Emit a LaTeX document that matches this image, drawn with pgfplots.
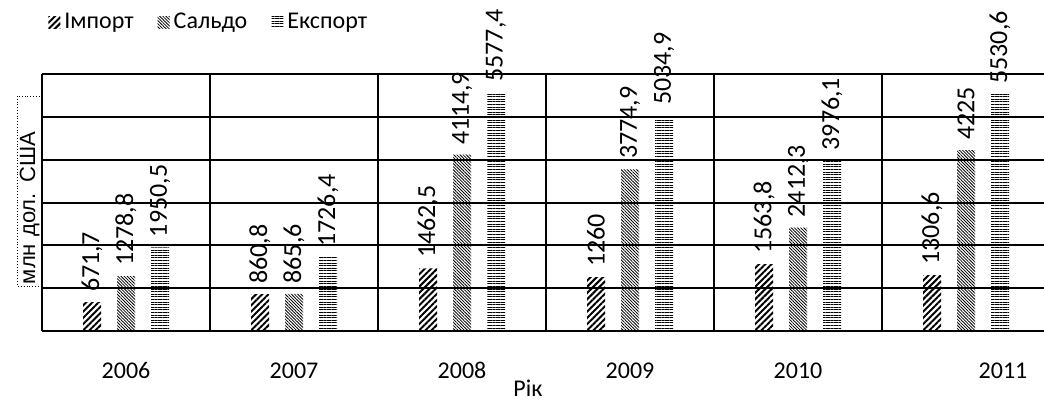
\documentclass[border=0pt]{standalone}
\usepackage{fontspec}
\setmainfont{Carlito}
\newfontfamily\arialfont{Liberation Sans}
\usepackage{pgfplots}
\pgfplotsset{compat=1.18}
\usetikzlibrary{patterns.meta}

\pgfplotstableread{
x imp sal exp
0 671.7  1278.8 1950.5
1 860.8  865.6  1726.4
2 1462.5 4114.9 5577.4
3 1260   3774.9 5034.9
4 1563.8 2412.3 3976.1
5 1306.6 4225   5530.6
}\trade

\begin{document}
\begin{tikzpicture}
  \begin{axis}[
      name=ax,
      scale only axis,
      width=501pt, height=128.5pt,
      ybar=8pt, bar width=9pt,
      xmin=-0.5, xmax=5.464,
      ymin=0, ymax=6000,
      clip=false,
      axis lines*=left,
      axis line style={black, line width=1pt},
      ytick={0,1000,...,6000}, yticklabels={},
      ymajorgrids, major grid style={black, line width=1pt},
      major y tick style={draw=none},
      xtick={0,1,2,3,4}, xticklabels={2006,2007,2008,2009,2010},
      extra x ticks={5.22}, extra x tick labels={2011},
      extra x tick style={grid=none, tick style={draw=none}},
      minor xtick={0.5,1.5,2.5,3.5,4.5},
      minor x grid style={black, line width=1pt},
      xminorgrids,
      tick style={draw=none},
      ticklabel style={font=\fontsize{12}{14}\selectfont},
      xticklabel style={yshift=-8pt},
      xlabel={Рік},
      xlabel style={font=\fontsize{12}{14}\selectfont, at={(rel axis cs:0.485,0)}, anchor=north, yshift=-21pt},
      ylabel={млн дол. США},
      every axis y label/.style={at={(rel axis cs:0,0.56)}, rotate=90, anchor=south, xshift=-2pt,
        draw, densely dotted, font=\arialfont\fontsize{11}{13}\selectfont,
        text width=93pt, align=left, inner sep=1pt},
      nodes near coords={\pgfmathprintnumber{\pgfplotspointmeta}},
      /pgf/number format/.cd, use comma, 1000 sep={}, fixed, precision=1, assume math mode=true,
      /pgfplots/.cd,
      every node near coord/.append style={rotate=90, anchor=west, inner xsep=5pt,
        font=\fontsize{13}{14}\selectfont, black},
      legend style={at={(rel axis cs:0,1)}, anchor=west, xshift=3pt, yshift=26pt,
        draw=none, fill=none, legend columns=-1, inner sep=0pt,
        font=\fontsize{12}{14}\selectfont,
        /tikz/every even column/.append style={column sep=10pt}},
      legend image code/.code={\path[#1] (0pt,-3pt) rectangle (6pt,3pt);},
    ]
    \addplot[draw=none, pattern={Lines[angle=45, distance=2.2pt, line width=1pt]}]
      table[x=x, y=imp] {\trade};
    \addplot[draw=none, pattern={Lines[angle=-45, distance=1.1pt, line width=0.4pt]}]
      table[x=x, y=sal] {\trade};
    \addplot[draw=none, pattern={Lines[angle=0, distance=1.3pt, line width=0.5pt]}]
      table[x=x, y=exp] {\trade};
    \legend{Імпорт, Сальдо, Експорт}
  \end{axis}
  \pgfresetboundingbox
  \path[use as bounding box] ([xshift=-21pt,yshift=-35pt]ax.south west) rectangle ([yshift=37pt]ax.north east);
\end{tikzpicture}
\end{document}
